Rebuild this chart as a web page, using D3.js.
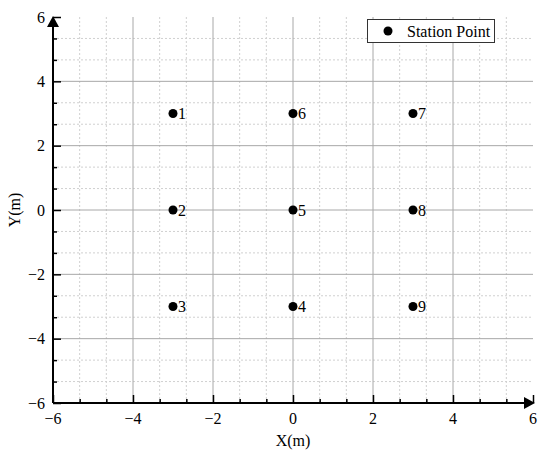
<!DOCTYPE html>
<html>
<head>
<meta charset="utf-8">
<script src="https://cdn.jsdelivr.net/npm/d3@7"></script>
<style>
  body { margin: 0; background: #fff; }
  text { font-family: "Liberation Serif", "Times New Roman", serif; }
</style>
</head>
<body>
<div id="chart"></div>
<script>
"use strict"

const WIDTH = 550;
const HEIGHT = 456;
const LEFT = 53, RIGHT = 533, TOP = 17, BOTTOM = 403;

// station data
const stationIds = ["1", "2", "3", "4", "5", "6", "7", "8", "9"];
const stationX = [-3, -3, -3, 0, 0, 0, 3, 3, 3];
const stationY = [3, 0, -3, -3, 0, 3, 3, 0, -3];
const majorTicks = [-6, -4, -2, 0, 2, 4, 6];
const tickLabels = ["\u22126", "\u22124", "\u22122", "0", "2", "4", "6"];

var x = d3.scaleLinear().domain([-6, 6]).range([LEFT, RIGHT]);
var y = d3.scaleLinear().domain([-6, 6]).range([BOTTOM, TOP]);

var minorTicks = [];
for (var i = 0; i < majorTicks.length - 1; i++) {
	minorTicks.push(majorTicks[i] + 2 / 3, majorTicks[i] + 4 / 3);
}

var svg = d3.select('#chart')
	.append('svg')
	.attr('width', WIDTH)
	.attr('height', HEIGHT);

// minor grid (dotted)
var grid = svg.append('g');
grid.selectAll('.mgx').data(minorTicks).enter().append('line')
	.attr('x1', d => x(d)).attr('x2', d => x(d))
	.attr('y1', TOP).attr('y2', BOTTOM)
	.style('stroke', '#d0d0d0').style('stroke-dasharray', '2,2').style('stroke-width', 1);
grid.selectAll('.mgy').data(minorTicks).enter().append('line')
	.attr('y1', d => y(d)).attr('y2', d => y(d))
	.attr('x1', LEFT).attr('x2', RIGHT)
	.style('stroke', '#d0d0d0').style('stroke-dasharray', '2,2').style('stroke-width', 1);

// major grid
grid.selectAll('.gx').data(majorTicks.slice(1, -1)).enter().append('line')
	.attr('x1', d => x(d)).attr('x2', d => x(d))
	.attr('y1', TOP).attr('y2', BOTTOM)
	.style('stroke', '#a8a8a8').style('stroke-width', 1);
grid.selectAll('.gy').data(majorTicks.slice(1, -1)).enter().append('line')
	.attr('y1', d => y(d)).attr('y2', d => y(d))
	.attr('x1', LEFT).attr('x2', RIGHT)
	.style('stroke', '#a8a8a8').style('stroke-width', 1);

// axes, ticks pointing inward
var xAxis = d3.axisTop(x).tickValues(majorTicks).tickFormat('').tickSizeOuter(0).tickSize(8);
var yAxis = d3.axisRight(y).tickValues(majorTicks).tickFormat('').tickSizeOuter(0).tickSize(8);
var xMinor = d3.axisTop(x).tickValues(minorTicks).tickFormat('').tickSizeOuter(0).tickSize(4);
var yMinor = d3.axisRight(y).tickValues(minorTicks).tickFormat('').tickSizeOuter(0).tickSize(4);

[xAxis, xMinor].forEach(function(a) {
	svg.append('g').attr('transform', 'translate(0,' + BOTTOM + ')').call(a);
});
[yAxis, yMinor].forEach(function(a) {
	svg.append('g').attr('transform', 'translate(' + LEFT + ',0)').call(a);
});
svg.selectAll('.domain').remove();
svg.selectAll('.tick line').style('stroke', '#000').style('stroke-width', 1.5);

// axis lines with arrows
svg.append('line').attr('x1', LEFT).attr('x2', RIGHT - 6).attr('y1', BOTTOM).attr('y2', BOTTOM)
	.style('stroke', '#000').style('stroke-width', 2);
svg.append('line').attr('x1', LEFT).attr('x2', LEFT).attr('y1', BOTTOM).attr('y2', TOP + 6)
	.style('stroke', '#000').style('stroke-width', 2);
svg.append('path')
	.attr('d', 'M' + (RIGHT + 2) + ',' + BOTTOM + 'L' + (RIGHT - 9) + ',' + (BOTTOM - 6) + 'L' + (RIGHT - 9) + ',' + (BOTTOM + 6) + 'Z')
	.style('fill', '#000');
svg.append('path')
	.attr('d', 'M' + LEFT + ',' + (TOP - 1) + 'L' + (LEFT - 6) + ',' + (TOP + 10) + 'L' + (LEFT + 6) + ',' + (TOP + 10) + 'Z')
	.style('fill', '#000');

// tick labels
svg.selectAll('.xl').data(majorTicks).enter().append('text')
	.attr('x', d => x(d))
	.attr('y', 424)
	.attr('text-anchor', 'middle')
	.style('font-size', '16px')
	.text((d, i) => tickLabels[i]);
svg.selectAll('.yl').data(majorTicks).enter().append('text')
	.attr('x', 45)
	.attr('y', d => y(d) + 5.5)
	.attr('text-anchor', 'end')
	.style('font-size', '16px')
	.text((d, i) => tickLabels[i]);

// axis titles
svg.append('text')
	.attr('x', x(0)).attr('y', 446)
	.attr('text-anchor', 'middle')
	.style('font-size', '16px')
	.text('X(m)');
svg.append('text')
	.attr('transform', 'translate(20,' + y(0) + ') rotate(-90)')
	.attr('text-anchor', 'middle')
	.style('font-size', '16px')
	.text('Y(m)');

// stations
var pts = svg.selectAll('.station').data(stationIds).enter().append('g');
pts.append('circle')
	.attr('cx', (d, i) => x(stationX[i]))
	.attr('cy', (d, i) => y(stationY[i]))
	.attr('r', 4.5)
	.style('fill', '#000');
pts.append('text')
	.attr('x', (d, i) => x(stationX[i]) + 5)
	.attr('y', (d, i) => y(stationY[i]) + 5.5)
	.style('font-size', '16px')
	.text(d => d);

// legend
var legend = svg.append('g');
legend.append('rect')
	.attr('x', 367.5).attr('y', 19.5).attr('width', 127).attr('height', 23)
	.style('fill', '#fff').style('stroke', '#333').style('stroke-width', 1);
legend.append('circle').attr('cx', 388).attr('cy', 31).attr('r', 4.5).style('fill', '#000');
legend.append('text').attr('x', 407).attr('y', 36.5).style('font-size', '16px').text('Station Point');
</script>
</body>
</html>
